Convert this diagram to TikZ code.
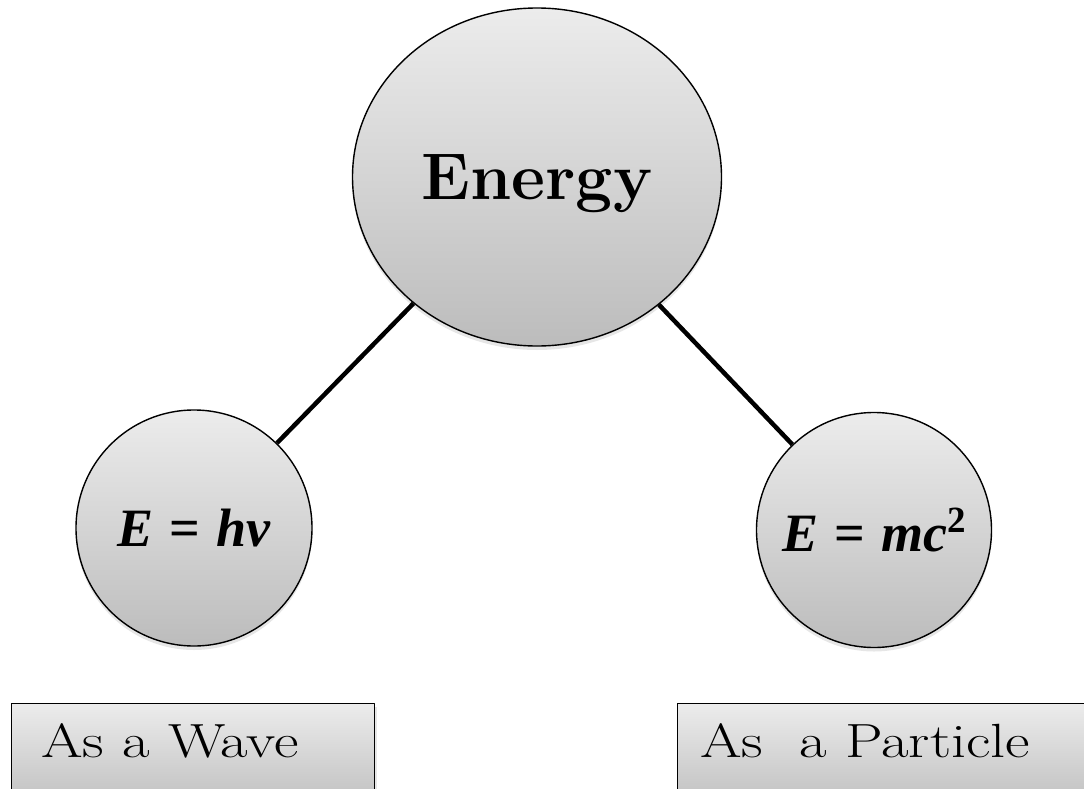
\documentclass[tikz,border=0pt]{standalone}
\usepackage{fontspec}
\newfontfamily\formfont{Liberation Serif}
\usetikzlibrary{shapes.geometric,shadows}
\definecolor{shadetop}{HTML}{ECECEC}
\definecolor{shadebot}{HTML}{BCBCBC}

\begin{document}
\begin{tikzpicture}[x=1pt, y=-1pt, line cap=round, line join=round,
    ball/.style={circle, draw, line width=1.4pt, top color=shadetop, bottom color=shadebot,
      drop shadow={opacity=0.2, shadow xshift=0pt, shadow yshift=-4pt}, inner sep=0pt, text depth=0pt},
    panel/.style={rectangle, draw, line width=1.3pt, top color=shadetop, bottom color=shadebot,
      drop shadow={opacity=0.2, shadow xshift=2pt, shadow yshift=-3pt}, inner sep=0pt},
    formula/.style={font=\fontsize{54}{57}\selectfont\formfont\bfseries\itshape},
    caption/.style={font=\fontsize{48}{52}\selectfont, inner sep=0pt}]
  \useasboundingbox (0,0) rectangle (1084,789);
  % the three bubbles
  \node[ball, ellipse, minimum width=369, minimum height=338, font=\fontsize{66}{70}\selectfont\bfseries]
    (energy) at (537,177) {Energy};
  \node[ball, minimum size=236, formula] (wave) at (194,528)
    {E\hspace{0.3em}{\upshape=}\hspace{0.3em}hν};
  \node[ball, minimum size=235, formula] (particle) at (874,530)
    {E\hspace{0.3em}{\upshape=}\hspace{0.3em}mc\raisebox{19pt}{\fontsize{37}{40}\selectfont\upshape 2}};
  \draw[line width=4.5pt, line cap=butt] (energy) -- (wave);
  \draw[line width=4.5pt, line cap=butt] (energy) -- (particle);
  % boxes run off the page at the bottom (and right)
  \node[panel, anchor=north west, minimum width=363, minimum height=110] (wavebox) at (11,703) {};
  \node[panel, anchor=north west, minimum width=450, minimum height=110] (particlebox) at (677,703) {};
  \node[caption, anchor=base west] (wavetext) at (41,757)
    {\scalebox{1.25}[1]{As a Wave}};
  \node[caption, anchor=base west] (particletext) at (700,757)
    {\scalebox{1.25}[1]{As\ \ a Particle}};
\end{tikzpicture}
\end{document}
